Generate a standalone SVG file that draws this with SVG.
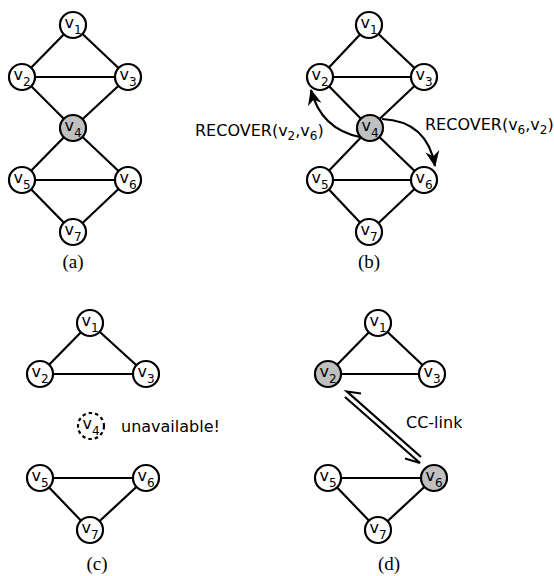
<svg xmlns="http://www.w3.org/2000/svg" width="554" height="576" viewBox="0 0 554 576">
<style>
.e{stroke:#000;stroke-width:2.2;fill:none}
.n circle{fill:#fff;stroke:#000;stroke-width:2.2}
.n.g circle{fill:#c0c0c0}
.n.d circle{stroke-dasharray:3.5,3}
.n text{font-family:"DejaVu Sans",sans-serif;font-size:16px;text-anchor:middle}
.s{font-size:12px}
.lbl{font-family:"DejaVu Sans",sans-serif;font-size:16px}
.cap{font-family:"Liberation Serif",serif;font-size:19px;text-anchor:middle}
</style>
<defs>
<marker id="ah" markerUnits="userSpaceOnUse" markerWidth="18" markerHeight="16" viewBox="-16 -8 18 16" refX="0" refY="0" orient="auto">
<path d="M1,0 L-15,-7 L-10,0 L-15,7 z" fill="#000"/>
</marker>
</defs>
<g id="connectors">
<!-- (a) -->
<line class="e" x1="73" y1="25" x2="22" y2="77"/>
<line class="e" x1="73" y1="25" x2="128" y2="77"/>
<line class="e" x1="22" y1="77" x2="128" y2="77"/>
<line class="e" x1="22" y1="77" x2="73" y2="128"/>
<line class="e" x1="128" y1="77" x2="73" y2="128"/>
<line class="e" x1="73" y1="128" x2="22" y2="180"/>
<line class="e" x1="73" y1="128" x2="128" y2="180"/>
<line class="e" x1="22" y1="180" x2="128" y2="180"/>
<line class="e" x1="22" y1="180" x2="73" y2="232"/>
<line class="e" x1="128" y1="180" x2="73" y2="232"/>
<!-- (b) -->
<line class="e" x1="369" y1="25" x2="320" y2="77"/>
<line class="e" x1="369" y1="25" x2="424" y2="77"/>
<line class="e" x1="320" y1="77" x2="424" y2="77"/>
<line class="e" x1="320" y1="77" x2="370" y2="128"/>
<line class="e" x1="424" y1="77" x2="370" y2="128"/>
<line class="e" x1="370" y1="128" x2="320" y2="180"/>
<line class="e" x1="370" y1="128" x2="424" y2="180"/>
<line class="e" x1="320" y1="180" x2="424" y2="180"/>
<line class="e" x1="320" y1="180" x2="369" y2="232"/>
<line class="e" x1="424" y1="180" x2="369" y2="232"/>
<path class="e" d="M360,137 Q321,129 311,90" marker-end="url(#ah)"/>
<path class="e" d="M382,119 Q427,121 435,166" marker-end="url(#ah)"/>
<!-- (c) -->
<line class="e" x1="90" y1="323" x2="40" y2="374"/>
<line class="e" x1="90" y1="323" x2="146" y2="374"/>
<line class="e" x1="40" y1="374" x2="146" y2="374"/>
<line class="e" x1="40" y1="478" x2="146" y2="478"/>
<line class="e" x1="40" y1="478" x2="90" y2="530"/>
<line class="e" x1="146" y1="478" x2="90" y2="530"/>
<!-- (d) -->
<line class="e" x1="378" y1="323" x2="328" y2="374"/>
<line class="e" x1="378" y1="323" x2="432" y2="374"/>
<line class="e" x1="328" y1="374" x2="432" y2="374"/>
<line class="e" x1="328" y1="478" x2="434" y2="478"/>
<line class="e" x1="328" y1="478" x2="378" y2="530"/>
<line class="e" x1="434" y1="478" x2="378" y2="530"/>
<path class="e" stroke-width="2" d="M361,393.5 L347,391.5 L421,457"/>
<path class="e" stroke-width="2" d="M345,397 L420,463 L405,458.5"/>
</g>
<!-- (a) nodes -->
<g id="a-v1" class="n"><circle cx="73" cy="25" r="13"/><text x="73" y="28">v<tspan class="s" dy="5.5">1</tspan></text></g>
<g id="a-v2" class="n"><circle cx="22" cy="77" r="13"/><text x="22" y="80">v<tspan class="s" dy="5.5">2</tspan></text></g>
<g id="a-v3" class="n"><circle cx="128" cy="77" r="13"/><text x="128" y="80">v<tspan class="s" dy="5.5">3</tspan></text></g>
<g id="a-v4" class="n g"><circle cx="73" cy="128" r="13"/><text x="73" y="131">v<tspan class="s" dy="5.5">4</tspan></text></g>
<g id="a-v5" class="n"><circle cx="22" cy="180" r="13"/><text x="22" y="183">v<tspan class="s" dy="5.5">5</tspan></text></g>
<g id="a-v6" class="n"><circle cx="128" cy="180" r="13"/><text x="128" y="183">v<tspan class="s" dy="5.5">6</tspan></text></g>
<g id="a-v7" class="n"><circle cx="73" cy="232" r="13"/><text x="73" y="235">v<tspan class="s" dy="5.5">7</tspan></text></g>
<!-- (b) nodes -->
<g id="b-v1" class="n"><circle cx="369" cy="25" r="13"/><text x="369" y="28">v<tspan class="s" dy="5.5">1</tspan></text></g>
<g id="b-v2" class="n"><circle cx="320" cy="77" r="13"/><text x="320" y="80">v<tspan class="s" dy="5.5">2</tspan></text></g>
<g id="b-v3" class="n"><circle cx="424" cy="77" r="13"/><text x="424" y="80">v<tspan class="s" dy="5.5">3</tspan></text></g>
<g id="b-v4" class="n g"><circle cx="370" cy="128" r="13"/><text x="370" y="131">v<tspan class="s" dy="5.5">4</tspan></text></g>
<g id="b-v5" class="n"><circle cx="320" cy="180" r="13"/><text x="320" y="183">v<tspan class="s" dy="5.5">5</tspan></text></g>
<g id="b-v6" class="n"><circle cx="424" cy="180" r="13"/><text x="424" y="183">v<tspan class="s" dy="5.5">6</tspan></text></g>
<g id="b-v7" class="n"><circle cx="369" cy="232" r="13"/><text x="369" y="235">v<tspan class="s" dy="5.5">7</tspan></text></g>
<text class="lbl" x="195" y="136">RECOVER(v<tspan font-size="12" dy="4">2</tspan><tspan dy="-4">,v</tspan><tspan font-size="12" dy="4">6</tspan><tspan dy="-4">)</tspan></text>
<text class="lbl" x="425" y="130">RECOVER(v<tspan font-size="12" dy="4">6</tspan><tspan dy="-4">,v</tspan><tspan font-size="12" dy="4">2</tspan><tspan dy="-4">)</tspan></text>
<!-- (c) nodes -->
<g id="c-v1" class="n"><circle cx="90" cy="323" r="13"/><text x="90" y="326">v<tspan class="s" dy="5.5">1</tspan></text></g>
<g id="c-v2" class="n"><circle cx="40" cy="374" r="13"/><text x="40" y="377">v<tspan class="s" dy="5.5">2</tspan></text></g>
<g id="c-v3" class="n"><circle cx="146" cy="374" r="13"/><text x="146" y="377">v<tspan class="s" dy="5.5">3</tspan></text></g>
<g id="c-v4" class="n d"><circle cx="91" cy="426" r="13"/><text x="91" y="429">v<tspan class="s" dy="5.5">4</tspan></text></g>
<g id="c-v5" class="n"><circle cx="40" cy="478" r="13"/><text x="40" y="481">v<tspan class="s" dy="5.5">5</tspan></text></g>
<g id="c-v6" class="n"><circle cx="146" cy="478" r="13"/><text x="146" y="481">v<tspan class="s" dy="5.5">6</tspan></text></g>
<g id="c-v7" class="n"><circle cx="90" cy="530" r="13"/><text x="90" y="533">v<tspan class="s" dy="5.5">7</tspan></text></g>
<text class="lbl" x="121" y="432">unavailable!</text>
<!-- (d) nodes -->
<g id="d-v1" class="n"><circle cx="378" cy="323" r="13"/><text x="378" y="326">v<tspan class="s" dy="5.5">1</tspan></text></g>
<g id="d-v2" class="n g"><circle cx="328" cy="374" r="13"/><text x="328" y="377">v<tspan class="s" dy="5.5">2</tspan></text></g>
<g id="d-v3" class="n"><circle cx="432" cy="374" r="13"/><text x="432" y="377">v<tspan class="s" dy="5.5">3</tspan></text></g>
<g id="d-v5" class="n"><circle cx="328" cy="478" r="13"/><text x="328" y="481">v<tspan class="s" dy="5.5">5</tspan></text></g>
<g id="d-v6" class="n g"><circle cx="434" cy="478" r="13"/><text x="434" y="481">v<tspan class="s" dy="5.5">6</tspan></text></g>
<g id="d-v7" class="n"><circle cx="378" cy="530" r="13"/><text x="378" y="533">v<tspan class="s" dy="5.5">7</tspan></text></g>
<text class="lbl" x="406" y="428">CC-link</text>
<!-- captions -->
<text class="cap" x="73" y="268">(a)</text>
<text class="cap" x="369" y="268">(b)</text>
<text class="cap" x="97" y="570">(c)</text>
<text class="cap" x="389" y="570">(d)</text>
</svg>
